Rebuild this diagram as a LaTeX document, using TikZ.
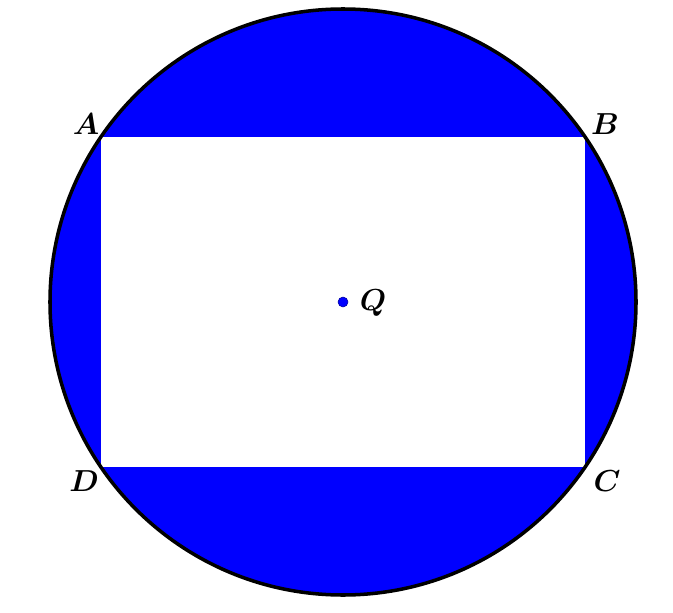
\documentclass[tikz,border=0pt]{standalone}
\usepackage{bm}
\begin{document}
\begin{tikzpicture}[thick, every node/.style={font=\fontsize{18}{21}\selectfont}]
    \useasboundingbox (-6.86,-6.2) rectangle (6.6,6.04);

    % Corner definitions
    \coordinate (A) at (-4.84, 3.30);
    \coordinate (B) at (4.84, 3.30);
    \coordinate (C) at (4.84, -3.30);
    \coordinate (D) at (-4.84, -3.30);

    % Circle with the rectangle cut out
    \fill[blue] (0,0) circle (5.86);
    \fill[white] (A) -- (B) -- (C) -- (D) -- cycle;
    \draw[line width=2pt] (0,0) circle (5.86);

    % Node definitions
    \node (q) at (0, 0) [circle, fill=blue, draw=blue!60!black, line width=0.3pt, inner sep=0pt, minimum size=0.2cm] {};
    \node (lq) at (0.6, -0.02) {$\bm{Q}$};
    \node (la) at (-5.14, 3.56) {$\bm{A}$};
    \node (lb) at (5.24, 3.56) {$\bm{B}$};
    \node (lc) at (5.28, -3.58) {$\bm{C}$};
    \node (ld) at (-5.18, -3.58) {$\bm{D}$};
\end{tikzpicture}
\end{document}
